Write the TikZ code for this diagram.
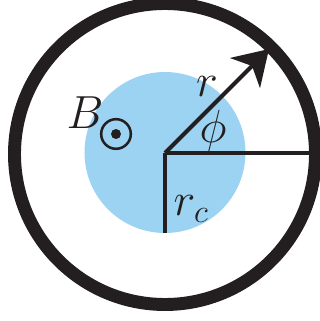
\documentclass[tikz,border=0pt]{standalone}
\usepackage{fix-cm}
\usepackage{amsmath, amssymb}
\usepackage{xcolor}
\usetikzlibrary{calc}
\usetikzlibrary{arrows.meta}
\definecolor{coreblue}{RGB}{157,211,242}
\definecolor{inkblack}{RGB}{35,31,32}

\begin{document}
\begin{tikzpicture}[x=0.025cm, y=0.025cm, font=\fontsize{33}{40}\selectfont]
\useasboundingbox (-165,153) rectangle (155,-168);
\coordinate (O) at (0,0);
\fill[coreblue] (0,0.5) circle (80.5);
\draw[inkblack, line width=9.2pt] (0,-1) circle (150.5);
\coordinate (E) at (144,0);
\coordinate (S) at (0,-80);
\coordinate (R) at (45:147);
\draw[inkblack, line width=2.9pt] (O) -- (E);
\draw[inkblack, line width=2.9pt, line cap=butt] (O) -- (S);
\draw[inkblack, line width=2.9pt, -{Stealth[length=24pt, width=30pt, inset=7pt]}] (O) -- (R);
\node[inkblack] (lr) at (42,66) {$r$};
\node[inkblack] (lphi) at (48,22) {$\phi$};
\node[inkblack] (lrc) at (26,-56) {$r_c$};
\node[inkblack] (lB) at (-80,40) {$B$};
\node[draw=inkblack, circle, line width=1.8pt, minimum size=0.74cm, inner sep=0pt] (odot) at (-49,19) {};
\fill[inkblack] (odot.center) circle (5);
\end{tikzpicture}
\end{document}
